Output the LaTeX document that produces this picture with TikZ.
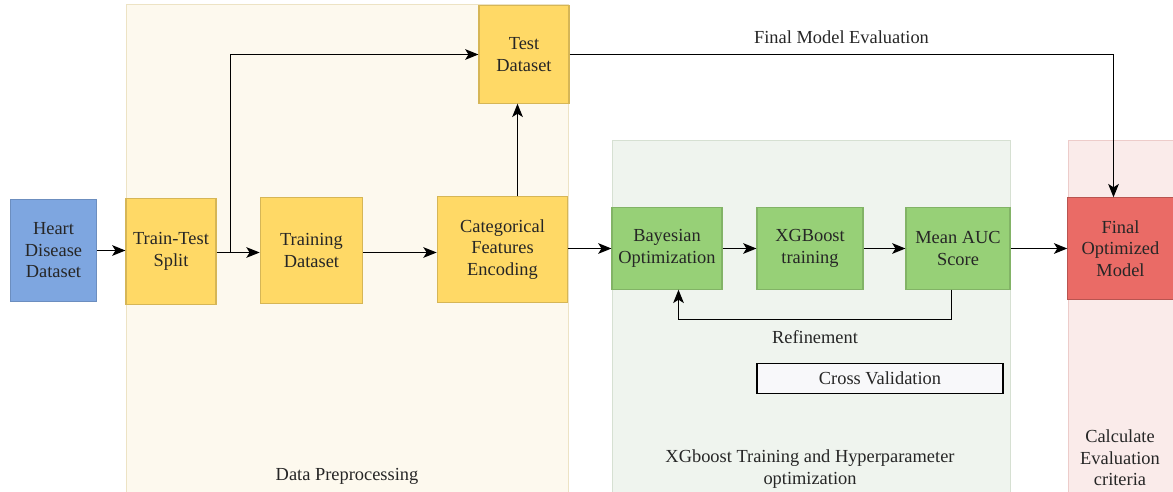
\documentclass[tikz,border=0pt]{standalone}
\usepackage{fontspec}
\setmainfont{Liberation Serif}
\usetikzlibrary{arrows.meta}

\definecolor{dpfill}{HTML}{FDF9EE}
\definecolor{dpline}{HTML}{EDE3C4}
\definecolor{xgfill}{HTML}{EFF4EE}
\definecolor{xgline}{HTML}{D6E0D2}
\definecolor{evfill}{HTML}{FAEBEA}
\definecolor{evline}{HTML}{EDCCCA}
\definecolor{bluefill}{HTML}{7EA6E0}
\definecolor{blueline}{HTML}{6C8EBF}
\definecolor{yelfill}{HTML}{FFD966}
\definecolor{yelline}{HTML}{D6B656}
\definecolor{grnfill}{HTML}{97D077}
\definecolor{grnline}{HTML}{82B366}
\definecolor{redfill}{HTML}{EA6B66}
\definecolor{redline}{HTML}{B85450}
\definecolor{cvfill}{HTML}{F8F8FA}
\definecolor{txt}{HTML}{262626}

\begin{document}
\begin{tikzpicture}[x=0.75pt,y=-0.75pt,
  font=\fontsize{13.8}{16.1}\selectfont, text=txt,
  box/.style={draw, line width=0.8pt, align=center, inner sep=2pt},
  bluebox/.style={box, fill=bluefill, draw=blueline},
  yelbox/.style={box, fill=yelfill, draw=yelline},
  grnbox/.style={box, fill=grnfill, draw=grnline},
  redbox/.style={box, fill=redfill, draw=redline},
  arrow/.style={-{Stealth[length=10pt,width=8pt,inset=2.5pt]}, line width=1pt},
  line/.style={line width=1pt}]
\useasboundingbox (0,0) rectangle (1173,492);

% background panels
\draw[fill=dpfill, draw=dpline] (126,4) rectangle (568,492);
\draw[fill=xgfill, draw=xgline] (612,140) rectangle (1010,492);
\draw[fill=evfill, draw=evline] (1068,140) rectangle (1173,492);
\node (dplabel) at (347,476) {Data Preprocessing};
\node[align=center] (xglabel) at (810,469) {XGboost Training and Hyperparameter\\optimization};
\node[align=center] (evlabel) at (1120,458) {Calculate\\Evaluation\\criteria};

% boxes
\node[bluebox, minimum width=65pt, minimum height=77pt] (heart) at (53.5,250.5) {Heart\\Disease\\Dataset};
\node[yelbox, minimum width=67.5pt, minimum height=79pt] (split) at (171,251.5) {Train-Test\\Split};
\node[yelbox, minimum width=77pt, minimum height=79pt] (train) at (311.5,250.5) {Training\\Dataset};
\node[yelbox, minimum width=98pt, minimum height=79pt] (encode) at (502.5,249.5) {Categorical\\Features\\Encoding};
\node[yelbox, minimum width=67.5pt, minimum height=73pt] (test) at (524,54.5) {Test\\Dataset};
\node[grnbox, minimum width=82.5pt, minimum height=61pt] (bayes) at (667,248.5) {Bayesian\\Optimization};
\node[grnbox, minimum width=79.5pt, minimum height=61pt] (xgb) at (810,248.5) {XGBoost\\training};
\node[grnbox, minimum width=78pt, minimum height=61pt] (auc) at (958,248.5) {Mean AUC\\Score};
\node[redbox, minimum width=79pt, minimum height=76pt] (final) at (1120.5,248.5) {Final\\Optimized\\Model};
\node[draw=black, fill=cvfill, line width=0.8pt, minimum width=184.5pt, minimum height=23pt] (cv) at (880,378.5) {Cross Validation};

% connectors
\coordinate (br) at (230.5,252.5);
\draw[arrow] (heart) -- (heart -| split.west);
\draw[line] (split.east |- br) -- (br);
\draw[arrow] (br) -- (br -| train.west);
\draw[arrow] (br) |- (test.west);
\draw[arrow] (train.east |- br) -- (br -| encode.west);
\draw[arrow] ([xshift=11.25pt]encode.north) -- ([xshift=11.25pt]encode.north |- test.south);
\draw[arrow] (encode.east |- bayes) -- (bayes.west);
\draw[arrow] (bayes) -- (bayes -| xgb.west);
\draw[arrow] (xgb) -- (xgb -| auc.west);
\draw[arrow] (auc) -- (auc -| final.west);
\draw[arrow] (test.east) -| node[pos=.25, above, yshift=4pt] {Final Model Evaluation} ([xshift=-5.25pt]final.north);
\draw[arrow] ([xshift=-4.875pt]auc.south) -- ++(0,30) -| node[pos=.25, below, yshift=-4pt] {Refinement} ([xshift=8.625pt]bayes.south);
\end{tikzpicture}
\end{document}
